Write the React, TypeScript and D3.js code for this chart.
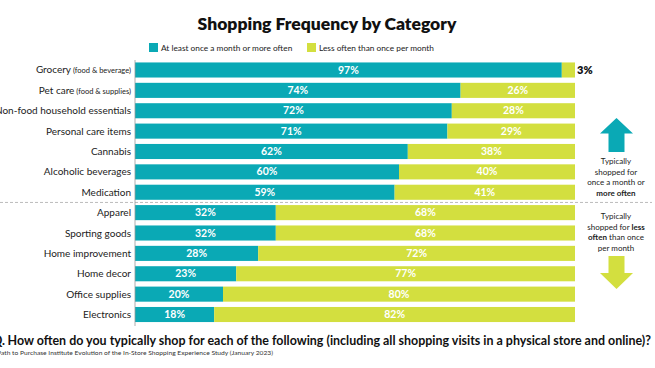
import React from "react";
import * as d3 from "d3";

const categories = [
  "Grocery",
  "Pet care",
  "Non-food household essentials",
  "Personal care items",
  "Cannabis",
  "Alcoholic beverages",
  "Medication",
  "Apparel",
  "Sporting goods",
  "Home improvement",
  "Home decor",
  "Office supplies",
  "Electronics",
];
const subLabels = ["(food & beverage)", "(food & supplies)", "", "", "", "", "", "", "", "", "", "", ""];
const monthlyOrMore = [97, 74, 72, 71, 62, 60, 59, 32, 32, 28, 23, 20, 18];
const lessOften = [3, 26, 28, 29, 38, 40, 41, 68, 68, 72, 77, 80, 82];
const seriesNames = ["At least once a month or more often", "Less often than once per month"];

const W = 655;
const H = 368;
const TEAL = "#0aa9b5";
const LIME = "#d3df3f";
const FONT = "Lato, 'Noto Sans', sans-serif";

export default function App() {
  const x = d3.scaleLinear().domain([0, 100]).range([135, 575]);
  const y = d3
    .scaleBand<string>()
    .domain(categories)
    .range([59.8, 324.7])
    .paddingInner(0.26)
    .paddingOuter(0.13);
  const bw = y.bandwidth();
  const sepY = ((y("Medication") as number) + bw + (y("Apparel") as number)) / 2;

  return (
    <svg width={W} height={H} style={{ position: "absolute", left: 0, top: 0 }} fontFamily={FONT}>
      <rect width={W} height={H} fill="#fff" />
      <text x={327} y={30} textAnchor="middle" fontSize={17.5} fontWeight={800} fill="#111">
        Shopping Frequency by Category
      </text>
      {/* legend */}
      <rect x={149} y={43} width={9} height={9} fill={TEAL} />
      <text x={161} y={51} fontSize={8.3} fill="#222">{seriesNames[0]}</text>
      <rect x={307} y={43} width={9} height={9} fill={LIME} />
      <text x={319} y={51} fontSize={8.3} fill="#222">{seriesNames[1]}</text>

      {/* separator */}
      <line x1={0} x2={652} y1={sepY} y2={sepY} stroke="#bbb" strokeWidth={1} strokeDasharray="3,2" />

      {categories.map((c, i) => {
        const yy = y(c) as number;
        const cy = yy + bw / 2;
        const m = monthlyOrMore[i];
        const l = lessOften[i];
        const x0 = x(0);
        const x1 = x(m);
        const x2 = x(m + l);
        return (
          <g key={c}>
            <rect x={x0} y={yy} width={x1 - x0} height={bw} fill={TEAL} />
            <rect x={x1} y={yy} width={x2 - x1} height={bw} fill={LIME} />
            <text x={(x0 + x1) / 2} y={cy + 3.6} textAnchor="middle" fontSize={10.5} fontWeight={700} fill="#fff">
              {m}%
            </text>
            {l >= 10 ? (
              <text x={(x1 + x2) / 2} y={cy + 3.6} textAnchor="middle" fontSize={10.5} fontWeight={700} fill="#fff">
                {l}%
              </text>
            ) : (
              <text x={x2 + 2} y={cy + 4} textAnchor="start" fontSize={11} fontWeight={800} fill="#111">
                {l}%
              </text>
            )}
            <text x={131} y={cy + 3.5} textAnchor="end" fontSize={10} fill="#222">
              {c}
              {subLabels[i] ? (
                <tspan fontSize={7.5}>{" " + subLabels[i]}</tspan>
              ) : null}
            </text>
          </g>
        );
      })}

      {/* axis line */}
      <line x1={135} x2={135} y1={60} y2={326} stroke="#999" strokeWidth={0.8} />

      {/* up arrow */}
      <path d="M616.5,118 L633,133.5 L624.5,133.5 L624.5,152 L608.5,152 L608.5,133.5 L600,133.5 Z" fill={TEAL} />
      <g fontSize={8} fill="#222" textAnchor="middle">
        <text x={616} y={164}>Typically</text>
        <text x={616} y={174.5}>shopped for</text>
        <text x={616} y={185}>once a month or</text>
        <text x={616} y={195.5} fontWeight={700}>more often</text>
        <text x={616} y={219}>Typically</text>
        <text x={616} y={229.5}>
          shopped for <tspan fontWeight={700}>less</tspan>
        </text>
        <text x={616} y={240}>
          <tspan fontWeight={700}>often</tspan> than once
        </text>
        <text x={616} y={250.5}>per month</text>
      </g>
      {/* down arrow */}
      <path d="M608.5,256 L624.5,256 L624.5,273 L633,273 L616.5,289 L600,273 L608.5,273 Z" fill={LIME} />

      {/* footer */}
      <text x={5} y={345} textAnchor="end" fontSize={12.5} fontWeight={700} fill="#111">Q.</text>
      <text x={7.5} y={345} fontSize={12.5} fontWeight={700} fill="#111" textLength={643.5} lengthAdjust="spacingAndGlyphs">
        How often do you typically shop for each of the following (including all shopping visits in a physical store and online)?
      </text>
      <text x={1} y={355} textAnchor="end" fontSize={6} fill="#333">Source: P</text>
      <text x={1} y={355} fontSize={6} fill="#333" textLength={272} lengthAdjust="spacingAndGlyphs">
        ath to Purchase Institute Evolution of the In-Store Shopping Experience Study (January 2023)
      </text>
    </svg>
  );
}
